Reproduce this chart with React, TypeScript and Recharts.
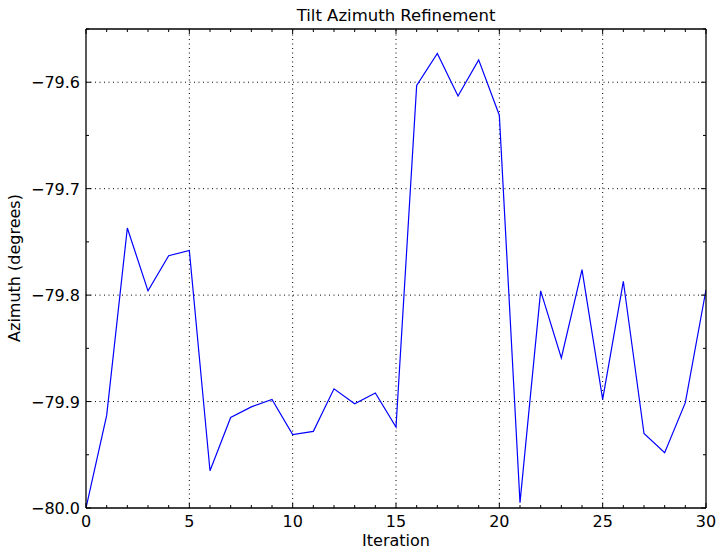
import React from 'react'
import { LineChart, Line, XAxis, YAxis, ReferenceLine } from 'recharts'

const iterations = [0, 1, 2, 3, 4, 5, 6, 7, 8, 9, 10, 11, 12, 13, 14, 15, 16, 17, 18, 19, 20, 21, 22, 23, 24, 25, 26, 27, 28, 29, 30]
const azimuth = [
  -80.0, -79.913, -79.737, -79.796, -79.763, -79.758, -79.965, -79.915, -79.905, -79.898,
  -79.931, -79.928, -79.888, -79.902, -79.892, -79.924, -79.603, -79.573, -79.613, -79.579,
  -79.631, -79.995, -79.796, -79.859, -79.776, -79.898, -79.787, -79.930, -79.948, -79.901,
  -79.795,
]
const xTicks = [0, 1, 2, 3, 4, 5, 6, 7, 8, 9, 10, 11, 12, 13, 14, 15, 16, 17, 18, 19, 20, 21, 22, 23, 24, 25, 26, 27, 28, 29, 30]
const xMajor = [0, 5, 10, 15, 20, 25, 30]
const yTicks = [-80.0, -79.95, -79.9, -79.85, -79.8, -79.75, -79.7, -79.65, -79.6, -79.55]
const yMajor = [-80.0, -79.9, -79.8, -79.7, -79.6]

const data = iterations.map((it, i) => ({ iteration: it, azimuth: azimuth[i] }))

const FONT = '"DejaVu Sans", sans-serif'
const isMajorX = (v: number) => xMajor.includes(v)
const isMajorY = (v: number) => yMajor.some((m) => Math.abs(m - v) < 1e-6)
const fmtY = (v: number) => v.toFixed(1).replace('-', '\u2212')

// matplotlib classic style: ticks point inward on all four sides
function BottomTick({ x, y, payload }: any) {
  const major = isMajorX(payload.value)
  return (
    <g>
      <line x1={x} x2={x} y1={y} y2={y - (major ? 5 : 3)} stroke="#000" />
      {major && (
        <text x={x} y={y + 19} textAnchor="middle" fontSize={16} fontFamily={FONT} fill="#000">
          {payload.value}
        </text>
      )}
    </g>
  )
}

function TopTick({ x, y, payload }: any) {
  const major = isMajorX(payload.value)
  return <line x1={x} x2={x} y1={y} y2={y + (major ? 5 : 3)} stroke="#000" />
}

function LeftTick({ x, y, payload }: any) {
  const major = isMajorY(payload.value)
  return (
    <g>
      <line x1={x} x2={x + (major ? 5 : 3)} y1={y} y2={y} stroke="#000" />
      {major && (
        <text x={x - 6} y={y + 6} textAnchor="end" fontSize={16} fontFamily={FONT} fill="#000">
          {fmtY(payload.value)}
        </text>
      )}
    </g>
  )
}

function RightTick({ x, y, payload }: any) {
  const major = isMajorY(payload.value)
  return <line x1={x} x2={x - (major ? 5 : 3)} y1={y} y2={y} stroke="#000" />
}

const frame = { stroke: '#000', strokeWidth: 1.3 }

export default function App() {
  return (
    <div style={{ position: 'absolute', left: 0, top: 0, width: 725, height: 555, background: '#fff', fontFamily: FONT }}>
      <div style={{ position: 'absolute', left: 86, top: 8, width: 620, textAlign: 'center', fontSize: 16.5, lineHeight: '16px', color: '#000' }}>
        Tilt Azimuth Refinement
      </div>
      <div
        style={{
          position: 'absolute', left: 15, top: 268, transform: 'translate(-50%, -50%) rotate(-90deg)',
          whiteSpace: 'nowrap', fontSize: 16, lineHeight: '16px', color: '#000',
        }}
      >
        Azimuth (degrees)
      </div>
      <LineChart width={725} height={555} data={data} margin={{ top: 28, right: 18, bottom: 0, left: 16 }}>
        {xMajor.slice(1, -1).map((v) => (
          <ReferenceLine key={'gx' + v} x={v} stroke="#000" strokeWidth={1} strokeDasharray="1 3.5" />
        ))}
        {yMajor.slice(1).map((v) => (
          <ReferenceLine key={'gy' + v} y={v} stroke="#000" strokeWidth={1} strokeDasharray="1 3.5" />
        ))}
        <XAxis
          dataKey="iteration" type="number" domain={[0, 30]} ticks={xTicks} interval={0} allowDataOverflow
          height={47} tickSize={0} tickMargin={0} tickLine={false} tick={<BottomTick />}
          axisLine={frame}
          label={{ value: 'Iteration', position: 'insideBottom', offset: 9, fontSize: 16, fontFamily: FONT, fill: '#000' }}
        />
        <XAxis
          xAxisId="top" dataKey="iteration" orientation="top" type="number" domain={[0, 30]} ticks={xTicks} interval={0} allowDataOverflow
          height={1} tickSize={0} tickMargin={0} tickLine={false} tick={<TopTick />}
          axisLine={frame}
        />
        <YAxis
          type="number" domain={[-80.0, -79.55]} ticks={yTicks} interval={0} allowDataOverflow
          width={70} tickSize={0} tickMargin={0} tickLine={false} tick={<LeftTick />}
          axisLine={frame}
        />
        <YAxis
          yAxisId="right" orientation="right" type="number" domain={[-80.0, -79.55]} ticks={yTicks} interval={0} allowDataOverflow
          width={1} tickSize={0} tickMargin={0} tickLine={false} tick={<RightTick />}
          axisLine={frame}
        />
        {/* invisible series so the top/right axes get drawn */}
        <Line
          xAxisId="top" yAxisId="right" type="linear" dataKey="azimuth" stroke="none" dot={false}
          activeDot={false} legendType="none" isAnimationActive={false}
        />
        <Line type="linear" dataKey="azimuth" stroke="#0000ff" strokeWidth={1.2} dot={false} isAnimationActive={false} />
      </LineChart>
    </div>
  )
}
